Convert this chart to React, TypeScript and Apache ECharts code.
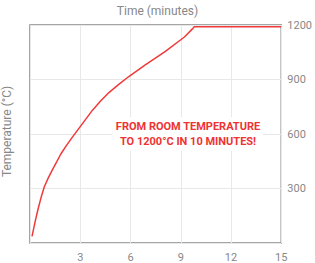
import React, { useEffect, useRef } from "react";
import * as echarts from "echarts";

const timeMinutes = [0.12, 0.3, 0.47, 0.66, 0.86, 1.1, 1.35, 1.6, 1.84, 2.2, 2.63, 3.22, 3.72, 4.2, 4.71, 5.3, 5.88, 6.86, 8.04, 9.22, 9.71, 9.8, 15];
const temperatureC = [36, 115, 183, 250, 311, 360, 405, 448, 490, 540, 595, 668, 730, 780, 828, 873, 915, 979, 1052, 1134, 1180, 1190, 1190];
const xTicks = [0, 3, 6, 9, 12, 15];
const yTicks = [0, 300, 600, 900, 1200];
const xTitle = "Time (minutes)";
const yTitle = "Temperature (°C)";
const noteLines = ["FROM ROOM TEMPERATURE", "TO 1200°C IN 10 MINUTES!"];

export default function App() {
  const ref = useRef<HTMLDivElement>(null);
  useEffect(() => {
    document.body.style.margin = "0";
    if (!ref.current) return;
    const chart = echarts.init(ref.current, undefined, { renderer: "svg" });
    const font = "Roboto, 'DejaVu Sans', sans-serif";
    chart.setOption({
      animation: false,
      title: {
        text: xTitle,
        left: "center",
        top: 0,
        textStyle: { fontFamily: font, fontSize: 12, fontWeight: "normal", color: "#888" },
      },
      grid: {
        left: 30,
        right: 30,
        top: 25,
        bottom: 20,
        show: true,
        borderColor: "#888",
        borderWidth: 1.5,
        containLabel: false,
      },
      xAxis: {
        type: "value",
        min: xTicks[0],
        max: xTicks[xTicks.length - 1],
        interval: 3,
        axisLine: { show: false },
        axisTick: { show: false },
        axisLabel: { showMinLabel: false, color: "#888", fontFamily: font, fontSize: 11, margin: 9 },
        splitLine: { show: true, lineStyle: { color: "#e8e8e8", width: 1 } },
      },
      yAxis: {
        type: "value",
        position: "right",
        min: yTicks[0],
        max: yTicks[yTicks.length - 1],
        interval: 300,
        axisLine: { show: false },
        axisTick: { show: false },
        axisLabel: {
          showMinLabel: false,
          color: "#888",
          fontFamily: font,
          fontSize: 11,
          margin: 6,
          formatter: (v: number) => String(v),
        },
        splitLine: { show: true, lineStyle: { color: "#e8e8e8", width: 1 } },
      },
      graphic: [
        {
          type: "text",
          left: 1,
          top: "middle",
          rotation: Math.PI / 2,
          style: {
            text: yTitle,
            fill: "#888",
            font: `12px ${font}`,
          },
        },
        {
          type: "text",
          x: 188,
          y: 134,
          z: 10,
          style: {
            text: noteLines.join("\n"),
            fill: "#ee3333",
            font: `bold 11px ${font}`,
            align: "center",
            verticalAlign: "middle",
            lineHeight: 15,
            backgroundColor: "#fff",
            padding: [2, 3],
          },
        },
      ],
      series: [
        {
          type: "line",
          data: timeMinutes.map((t, i) => [t, temperatureC[i]]),
          smooth: false,
          showSymbol: false,
          lineStyle: { color: "#f03a3a", width: 1.5 },
          z: 3,
        },
      ],
    });
    return () => chart.dispose();
  }, []);
  return <div ref={ref} style={{ width: 315, height: 263 }} />;
}
